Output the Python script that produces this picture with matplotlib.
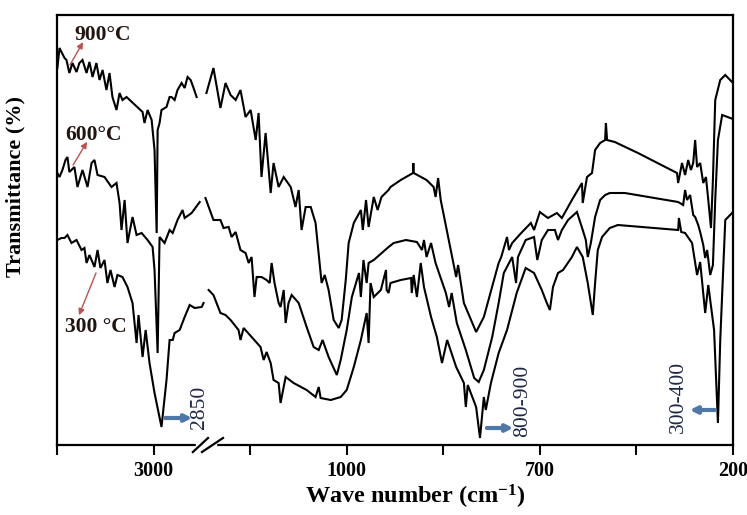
import numpy as np
import matplotlib
matplotlib.use("Agg")
import matplotlib.pyplot as plt
from matplotlib.lines import Line2D

plt.rcParams['font.family'] = ['Liberation Serif', 'DejaVu Serif']
plt.rcParams['mathtext.fontset'] = 'custom'
plt.rcParams['mathtext.rm'] = 'Liberation Serif:bold'
plt.rcParams['mathtext.bf'] = 'Liberation Serif:bold'
plt.rcParams['mathtext.it'] = 'Liberation Serif:bold:italic'

# ---------------- data (wavenumber cm-1, transmittance a.u.) ----------------
# 900 C
wn_900_hi = [3498, 3487, 3477, 3461, 3451, 3436, 3420, 3399, 3384, 3368, 3347, 3332, 3316, 3296,
             3280, 3264, 3244, 3228, 3213, 3192, 3176, 3161, 3140, 3057, 3047, 3031, 3010, 2995,
             2984, 2979, 2969, 2959, 2933, 2917, 2907, 2891, 2876, 2855, 2839, 2824, 2808, 2793, 2777]
t_900_hi = [94.25, 99.25, 98.25, 96.75, 96.25, 93.0, 95.5, 93.25, 95.5, 96.25, 93.0, 95.75, 92.0, 95.5,
            91.25, 93.75, 88.75, 93.0, 87.0, 83.75, 88.0, 86.25, 87.0, 83.25, 80.5, 83.75, 81.25, 73.75,
            53.0, 78.75, 80.5, 83.75, 84.5, 87.0, 87.0, 86.25, 88.75, 90.5, 89.25, 92.0, 91.25, 89.25, 87.0]
wn_900_lo = [1581, 1552, 1523, 1502, 1481, 1460, 1440, 1419, 1398, 1377, 1365, 1353, 1336, 1315,
             1303, 1282, 1261, 1232, 1212, 1199, 1187, 1170, 1149, 1129, 1104, 1091, 1075, 1054,
             1033, 1021, 1004, 997, 989, 978, 975, 970, 966, 958, 952, 946, 935, 932, 916, 897,
             896.5, 896, 876, 865, 862, 858, 854, 830, 827, 818, 799, 787, 764, 760, 751, 748, 743,
             729, 714, 709, 700, 679, 656, 643, 617, 591, 589, 578, 565, 557, 544, 531, 529, 526,
             506, 446, 345, 342, 332, 324, 316, 309, 303, 298, 293, 285, 277, 270, 264, 257, 252,
             246, 233, 220, 200]
t_900_lo = [88.0, 94.25, 84.25, 90.5, 87.5, 86.25, 88.75, 82.0, 83.75, 76.25, 83.0, 67.0, 78.0, 63.0,
            70.5, 64.5, 67.0, 64.5, 59.5, 63.75, 53.75, 59.5, 59.5, 55.5, 40.5, 42.5, 38.75, 31.25,
            29.25, 31.25, 41.25, 50.5, 55.5, 58.75, 53.75, 61.25, 54.5, 62.0, 58.75, 62.0, 63.75, 64.5, 66.25, 68.0,
            70.5, 68.0, 66.25, 64.5, 62.0, 66.75, 61.25, 42.0, 45.0, 35.5, 28.25, 32.0, 45.5, 47.0, 52.0, 48.75, 50.5,
            53.0, 55.5, 53.75, 58.25, 56.75, 58.0, 56.75, 61.25, 65.5, 60.5, 67.0, 68.0, 73.75, 75.5, 76.25, 80.5, 76.25,
            75.75, 73.0, 68.0, 65.5, 70.5, 67.5, 71.25, 68.75, 70.5, 76.25, 69.5, 70.5, 65.5, 67.0, 61.25, 54.25, 66.25,
            86.25, 91.25, 92.5, 90.5]

# 600 C
wn_600_hi = [3498, 3487, 3472, 3456, 3446, 3436, 3410, 3394, 3368, 3342, 3321, 3306, 3290, 3254,
             3218, 3192, 3176, 3166, 3150, 3135, 3109, 3088, 3062, 3031, 3005, 2995, 2979, 2969,
             2943, 2917, 2901, 2876, 2850, 2839, 2803, 2761]
t_600_hi = [68.0, 67.0, 68.75, 71.25, 72.0, 68.25, 69.5, 64.5, 68.75, 64.5, 70.5, 71.25, 67.5, 67.0,
            64.5, 65.5, 60.5, 53.75, 61.25, 50.5, 57.0, 52.5, 53.0, 51.25, 49.5, 43.75, 23.0, 52.0,
            50.5, 53.75, 53.0, 56.25, 58.75, 56.75, 58.0, 60.75]
wn_600_lo = [1585, 1552, 1523, 1510, 1489, 1477, 1460, 1440, 1419, 1406, 1394, 1382, 1373, 1353,
             1332, 1319, 1311, 1299, 1282, 1274, 1261, 1253, 1241, 1228, 1199, 1166, 1137, 1116,
             1100, 1075, 1041, 1025, 1000, 992, 981, 978, 974, 969, 966, 958, 935, 927, 908, 891,
             883, 880, 876, 869, 862, 846, 841, 837, 829, 815, 802, 795, 787, 774, 764, 756, 743,
             737, 734, 722, 709, 704, 695, 679, 661, 653, 643, 627, 604, 589, 581, 576, 568, 557,
             544, 531, 519, 480, 342, 329, 324, 319, 311, 303, 298, 290, 285, 277, 272, 267, 259,
             252, 246, 239, 228, 200]
t_600_lo = [61.75, 56.25, 56.25, 54.25, 54.5, 52.0, 53.25, 48.75, 48.0, 45.5, 47.0, 37.0, 42.0, 42.0,
            41.25, 40.5, 45.5, 40.5, 35.5, 34.5, 38.75, 30.5, 35.5, 37.5, 35.5, 29.5, 24.5, 23.75,
            26.25, 22.0, 17.5, 21.25, 28.75, 37.0, 43.0, 37.0, 46.25, 40.5, 45.5, 46.25, 49.5, 50.5, 51.25, 50.75,
            48.75, 51.25, 47.0, 50.5, 45.5, 38.0, 34.5, 38.0, 30.5, 23.75, 16.75, 15.75, 18.75, 27.0, 35.5, 43.0, 47.0,
            40.5, 47.0, 51.25, 52.0, 46.25, 51.25, 53.75, 53.75, 51.25, 53.75, 56.25, 58.25, 53.75, 51.25, 47.0, 50.5, 57.0,
            61.25, 62.5, 63.0, 63.0, 60.75, 60.0, 63.75, 61.25, 62.5, 57.5, 57.0, 55.0, 53.25, 50.0, 46.75, 48.75, 42.5,
            45.0, 61.25, 76.25, 82.5, 81.5]

# 300 C
wn_300_hi = [3498, 3477, 3461, 3446, 3425, 3399, 3373, 3358, 3347, 3332, 3306, 3290, 3275, 3254,
             3239, 3223, 3202, 3187, 3161, 3135, 3109, 3088, 3078, 3057, 3041, 3021, 2995, 2959,
             2933, 2917, 2901, 2891, 2865, 2839, 2813, 2787, 2751, 2741]
t_300_hi = [51.25, 51.75, 51.75, 52.5, 50.5, 51.25, 48.75, 49.25, 45.5, 47.5, 44.5, 48.75, 44.25, 46.25,
            40.5, 43.75, 39.5, 42.5, 42.0, 39.5, 35.5, 25.5, 32.5, 22.0, 28.75, 20.5, 13.0, 4.5,
            16.25, 26.25, 26.25, 28.0, 28.75, 32.0, 35.0, 34.25, 34.5, 35.5]
wn_300_lo = [1572, 1552, 1523, 1502, 1481, 1448, 1440, 1427, 1357, 1344, 1332, 1315, 1303, 1282,
             1274, 1253, 1220, 1166, 1129, 1116, 1108, 1066, 1025, 1000, 989, 978, 969, 966, 963,
             958, 947, 939, 938, 935, 932, 916, 900, 899, 896, 891, 885, 880, 869, 860, 852, 844,
             830, 818, 815, 812, 799, 793, 787, 784, 776, 764, 751, 736, 722, 709, 695, 682, 674,
             666, 653, 640, 617, 604, 589, 576, 563, 557, 550, 539, 519, 498, 342, 340, 334, 324,
             306, 293, 285, 272, 264, 249, 239, 233, 220, 200]
t_300_lo = [38.75, 37.5, 33.0, 32.5, 31.25, 28.75, 26.25, 29.25, 24.5, 21.25, 23.25, 20.5, 16.25, 15.5,
            10.5, 17.0, 15.5, 13.75, 12.0, 14.5, 11.75, 11.25, 12.0, 13.75, 19.5, 26.25, 33.0, 25.5, 40.5,
            37.0, 38.75, 43.75, 38.75, 38.0, 40.5, 41.25, 41.75, 38.0, 42.5, 37.0, 45.5, 39.5, 32.0, 27.0, 20.5, 26.25,
            19.5, 15.5, 9.5, 15.0, 9.5, 1.75, 12.0, 8.75, 15.5, 23.0, 28.75, 38.0, 44.25, 43.0, 38.75, 35.5, 33.75,
            39.5, 43.0, 43.75, 47.0, 49.5, 47.0, 40.5, 32.5, 40.5, 48.75, 52.0, 54.25, 55.0, 53.75, 56.75, 53.25, 53.0,
            50.5, 42.5, 45.75, 33.0, 40.0, 28.75, 5.5, 26.25, 56.25, 58.25]

tick_wn = [3500, 3000, 1400, 1000, 850, 700, 450, 200]
tick_labels = ['', '3000', '', '1000', '', '700', '', '200']

# ---------------- broken, piecewise axis scale (high wavenumbers on the left) ----------------
WN_KNOTS = [200, 700, 1000, 1588, 2740, 3500]
P_KNOTS = [7, 5, 3, 1.53, 1.52, 0]


def forward(w):
    return np.interp(w, WN_KNOTS, P_KNOTS)


def inverse(p):
    return np.interp(p, P_KNOTS[::-1], WN_KNOTS[::-1])


fig = plt.figure(figsize=(7.47, 5.15), dpi=100)
ax = fig.add_axes([57 / 747, 1 - 445 / 515, 676 / 747, 430 / 515])
ax.set_xscale('function', functions=(forward, inverse))

lw = 1.5
for wx, ty in [(wn_900_hi, t_900_hi), (wn_900_lo, t_900_lo),
               (wn_600_hi, t_600_hi), (wn_600_lo, t_600_lo),
               (wn_300_hi, t_300_hi), (wn_300_lo, t_300_lo)]:
    ax.plot(wx, ty, color='black', lw=lw, solid_joinstyle='miter')

ax.set_xlim(200, 3500)
ax.set_ylim(0, 107.5)
ax.set_xticks(tick_wn)
ax.set_xticklabels(tick_labels)
ax.set_yticks([])
ax.tick_params(axis='x', direction='out', length=7.5, width=1.5, pad=4,
               labelsize=14.5)
for lab in ax.get_xticklabels():
    lab.set_fontweight('bold')
for s in ax.spines.values():
    s.set_linewidth(1.6)

ax.set_ylabel('Transmittance (%)', fontsize=16, fontweight='bold')
ax.yaxis.set_label_coords(-0.047, 0.602)
ax.set_xlabel('Wave number (cm$^{-1}$)', fontsize=17.5, fontweight='bold')
ax.xaxis.label.set_va('center')
ax.xaxis.set_label_coords(0.5296, -0.121)

# break marks on the x axis
ax.add_patch(plt.Rectangle((0.205, -0.01), 0.03, 0.02, transform=ax.transAxes,
                           color='white', clip_on=False, zorder=5))
for x0, x1 in [(0.201, 0.2234), (0.2145, 0.2456)]:
    ax.add_line(Line2D([x0, x1], [-0.0163, 0.0163], transform=ax.transAxes,
                       color='black', lw=1.6, clip_on=False, zorder=6))

# temperature labels with red arrows
txt_col = '#221410'
red = '#c0504d'
tk = dict(fontsize=15.5, fontweight='bold', color=txt_col, ha='center', va='center',
          transform=ax.transAxes)
ax.text(0.0673, 0.953, '900°C', **tk)
ax.text(0.0547, 0.721, '600°C', **tk)
ax.text(0.0577, 0.274, '300 °C', **tk)
ar = dict(arrowstyle='-|>', color=red, lw=1.0, mutation_scale=9, shrinkA=0, shrinkB=0)
ax.annotate('', xy=(0.0385, 0.937), xytext=(0.0192, 0.884), xycoords='axes fraction',
            textcoords='axes fraction', arrowprops=ar)
ax.annotate('', xy=(0.0444, 0.705), xytext=(0.0237, 0.651), xycoords='axes fraction',
            textcoords='axes fraction', arrowprops=ar)
ax.annotate('', xy=(0.0325, 0.302), xytext=(0.0577, 0.400), xycoords='axes fraction',
            textcoords='axes fraction', arrowprops=ar)

# band annotations with blue arrows
blue = '#4f77a8'
navy = '#1c2745'
bk = dict(fontsize=15.5, color=navy, ha='center', va='center', rotation=90,
          transform=ax.transAxes)
ax.text(0.2115, 0.0884, '2850', **bk)
ax.text(0.689, 0.102, '800-900', **bk)
ax.text(0.9186, 0.1116, '300-400', **bk)
ba = dict(arrowstyle='-|>', color=blue, lw=3, mutation_scale=10, shrinkA=0, shrinkB=0)
ax.annotate('', xy=(0.200, 0.0628), xytext=(0.160, 0.0628), xycoords='axes fraction',
            textcoords='axes fraction', arrowprops=ba)
ax.annotate('', xy=(0.675, 0.0395), xytext=(0.636, 0.0395), xycoords='axes fraction',
            textcoords='axes fraction', arrowprops=ba)
ax.annotate('', xy=(0.936, 0.0814), xytext=(0.973, 0.0814), xycoords='axes fraction',
            textcoords='axes fraction', arrowprops=ba)

fig.savefig('out.png', dpi=100)
